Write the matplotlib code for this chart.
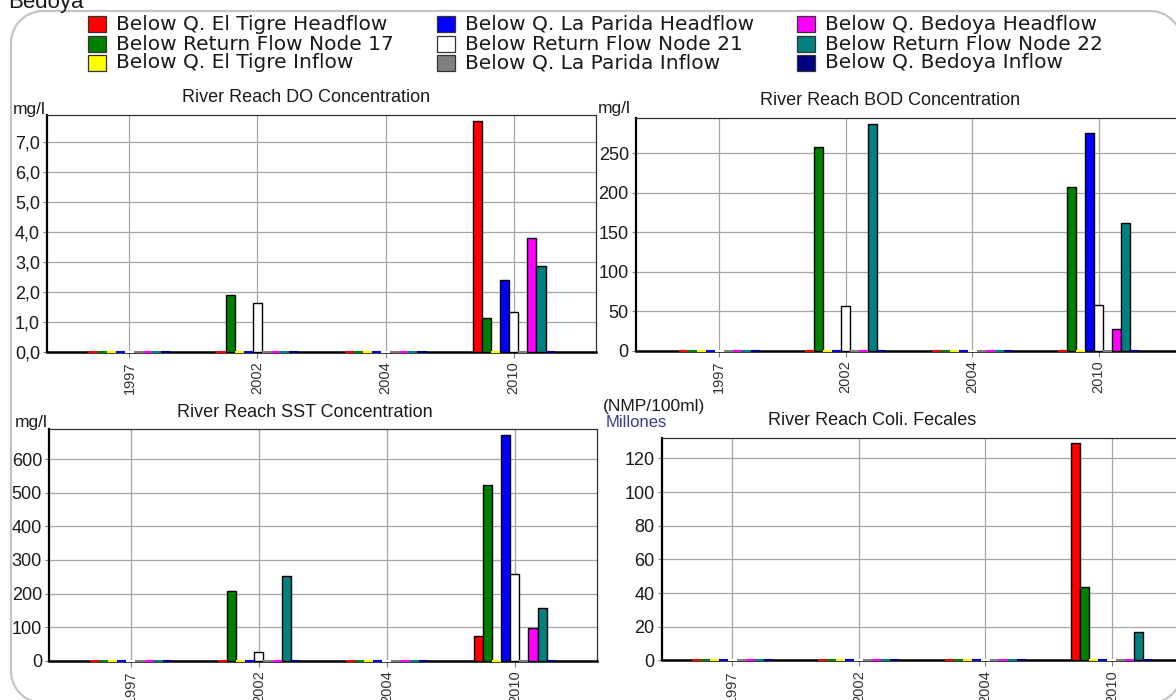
import matplotlib
matplotlib.use("Agg")
import numpy as np
import matplotlib.pyplot as plt
from matplotlib.patches import PathPatch, Rectangle
from matplotlib.path import Path
from matplotlib.transforms import IdentityTransform
from matplotlib.ticker import FuncFormatter, MultipleLocator

W, H = 1176, 700

# ---------------------------------------------------------------- data
years = ["1997", "2002", "2004", "2010"]

series = [
    "Below Q. El Tigre Headflow",
    "Below Return Flow Node 17",
    "Below Q. El Tigre Inflow",
    "Below Q. La Parida Headflow",
    "Below Return Flow Node 21",
    "Below Q. La Parida Inflow",
    "Below Q. Bedoya Headflow",
    "Below Return Flow Node 22",
    "Below Q. Bedoya Inflow",
]
colors = ["#ff0000", "#008000", "#ffff00", "#0000ff", "#ffffff",
          "#808080", "#ff00ff", "#008080", "#000080"]

# one row per series, one value per year
do_mgl = [
    [0, 0, 0, 7.70],
    [0, 1.89, 0, 1.11],
    [0, 0, 0, 0],
    [0, 0, 0, 2.39],
    [0, 1.63, 0, 1.32],
    [0, 0, 0, 0],
    [0, 0, 0, 3.79],
    [0, 0, 0, 2.87],
    [0, 0, 0, 0],
]
bod_mgl = [
    [0, 0, 0, 0],
    [0, 258, 0, 207],
    [0, 0, 0, 0],
    [0, 0, 0, 276],
    [0, 56, 0, 58],
    [0, 0, 0, 0],
    [0, 0, 0, 28],
    [0, 287, 0, 161],
    [0, 0, 0, 0],
]
sst_mgl = [
    [0, 0, 0, 73],
    [0, 207, 0, 522],
    [0, 0, 0, 0],
    [0, 0, 0, 672],
    [0, 25, 0, 259],
    [0, 0, 0, 0],
    [0, 0, 0, 96],
    [0, 252, 0, 157],
    [0, 0, 0, 0],
]
coli_millones = [
    [0, 0, 0, 129],
    [0, 0, 0, 43.6],
    [0, 0, 0, 0],
    [0, 0, 0, 0],
    [0, 0, 0, 0],
    [0, 0, 0, 0],
    [0, 0, 0, 0],
    [0, 0, 0, 16.7],
    [0, 0, 0, 0],
]

# ---------------------------------------------------------------- style
REGULAR = ["Liberation Sans", "DejaVu Sans"]
WIDE = ["DejaVu Sans"]
TXT = "#1a1a1a"
GROUP_WIDTH = 0.64

fig = plt.figure(figsize=(W / 100, H / 100), dpi=100)
fig.patch.set_facecolor("white")


def px_axes(left, right, top, bottom):
    return fig.add_axes([left / W, 1 - bottom / H, (right - left) / W,
                         (bottom - top) / H])


def fig_text(x, y, s, **kw):
    return fig.text(x / W, 1 - y / H, s, **kw)


def comma_fmt(v, _):
    return f"{v:.1f}".replace(".", ",")


def int_fmt(v, _):
    return f"{v:.0f}"


def draw_panel(ax, values, xlim, ymax, ystep, fmt):
    x = np.arange(len(years))
    n = len(series)
    w = GROUP_WIDTH / n
    for i, (vals, c) in enumerate(zip(values, colors)):
        vals = np.asarray(vals, float)
        xs = x + (i - (n - 1) / 2) * w
        nz = vals > 0
        if nz.any():
            ax.bar(xs[nz], vals[nz], width=w, color=c, edgecolor="black",
                   linewidth=1.0, zorder=3)
        if (~nz).any():
            ax.hlines(np.zeros((~nz).sum()), xs[~nz] - w / 2, xs[~nz] + w / 2,
                      colors=c, linewidth=1.5, zorder=4, clip_on=False)
    ax.set_xlim(*xlim)
    ax.set_ylim(0, ymax)
    ax.set_xticks(x)
    ax.set_xticklabels(years)
    ax.yaxis.set_major_locator(MultipleLocator(ystep))
    ax.yaxis.set_major_formatter(FuncFormatter(fmt))
    ax.grid(True, color="#a6a6a6", linewidth=0.9)
    ax.set_axisbelow(True)
    for side in ("top", "right"):
        ax.spines[side].set_color("#303030")
        ax.spines[side].set_linewidth(0.9)
    ax.spines["left"].set_color("black")
    ax.spines["left"].set_linewidth(1.6)
    ax.spines["bottom"].set_color("black")
    ax.spines["bottom"].set_linewidth(1.8)
    ax.tick_params(axis="y", length=3, width=0.8, color="#808080", pad=2,
                   labelsize=13, labelcolor=TXT)
    ax.tick_params(axis="x", length=4, width=0.8, color="#808080", pad=3,
                   labelsize=10.5, labelcolor="#333333", labelrotation=90)
    for lab in ax.get_yticklabels() + ax.get_xticklabels():
        lab.set_fontfamily(REGULAR)
    ax.set_facecolor("white")


# ---------------------------------------------------------------- panels
ax_do = px_axes(47, 595.7, 115, 351.7)
draw_panel(ax_do, do_mgl, (-0.643, 3.64), 7.89, 1.0, comma_fmt)

bod_left, bod_step = 635.7, 126.5
ax_bod = px_axes(bod_left, bod_left + 4.30 * bod_step, 118.3, 350.7)
draw_panel(ax_bod, bod_mgl, (-0.66, 3.64), 294, 50, int_fmt)

ax_sst = px_axes(49, 596.7, 429.3, 660.7)
draw_panel(ax_sst, sst_mgl, (-0.64, 3.64), 689, 100, int_fmt)

coli_left, coli_step = 661.5, 126.5
ax_coli = px_axes(coli_left, coli_left + 4.20 * coli_step, 438.3, 660.3)
draw_panel(ax_coli, coli_millones, (-0.56, 3.64), 132, 20, int_fmt)

# ---------------------------------------------------------------- titles / units
title_kw = dict(fontsize=13, color=TXT, ha="center", va="baseline",
                fontfamily=REGULAR)
fig_text(306, 102, "River Reach DO Concentration", **title_kw)
fig_text(890, 105, "River Reach BOD Concentration", **title_kw)
fig_text(305, 417, "River Reach SST Concentration", **title_kw)
fig_text(872, 425, "River Reach Coli. Fecales", **title_kw)

unit_kw = dict(fontsize=12.5, color=TXT, va="baseline", fontfamily=REGULAR)
fig_text(46, 114, "mg/l", ha="right", **unit_kw)
fig_text(631, 113, "mg/l", ha="right", **unit_kw)
fig_text(48, 427, "mg/l", ha="right", **unit_kw)
fig_text(603, 411, "(NMP/100ml)", ha="left", **unit_kw)
fig_text(606, 427, "Millones", ha="left", fontsize=12, color="#3b3b8f",
         va="baseline", fontfamily=REGULAR)

# ---------------------------------------------------------------- legend
col_x = [88, 437, 797]
row_y = [24, 44, 63]
ident = IdentityTransform()
for k, (name, c) in enumerate(zip(series, colors)):
    cx, ry = col_x[k // 3], row_y[k % 3]
    fig.add_artist(Rectangle((cx, H - ry - 8), 18, 16, transform=ident,
                             facecolor=c, edgecolor="#333333", linewidth=0.9))
    fig_text(cx + 28, ry, name, fontsize=14.5, color=TXT, ha="left",
             va="center", fontfamily=WIDE)


# ---------------------------------------------------------------- frame
def rounded_frame(x0, y0, x1, y1, r, n=24):
    """Closed outline of a rounded rectangle in pixel units (y up)."""
    pts = []
    corners = [(x1 - r, y1 - r, 0.0), (x0 + r, y1 - r, 90.0),
               (x0 + r, y0 + r, 180.0), (x1 - r, y0 + r, 270.0)]
    for cx, cy, a0 in corners:
        t = np.radians(np.linspace(a0, a0 + 90, n))
        pts.extend(zip(cx + r * np.cos(t), cy + r * np.sin(t)))
    pts.append(pts[0])
    return Path(np.array(pts))


fig.add_artist(PathPatch(rounded_frame(11, -3, 1182, H - 11, 32),
                         transform=ident, facecolor="none",
                         edgecolor="#c4c4c4", linewidth=1.6))
fig_text(8, 8, "Bedoya", fontsize=16, color=TXT, ha="left",
         va="baseline", fontfamily=REGULAR)

fig.savefig("out.png", dpi=100)
